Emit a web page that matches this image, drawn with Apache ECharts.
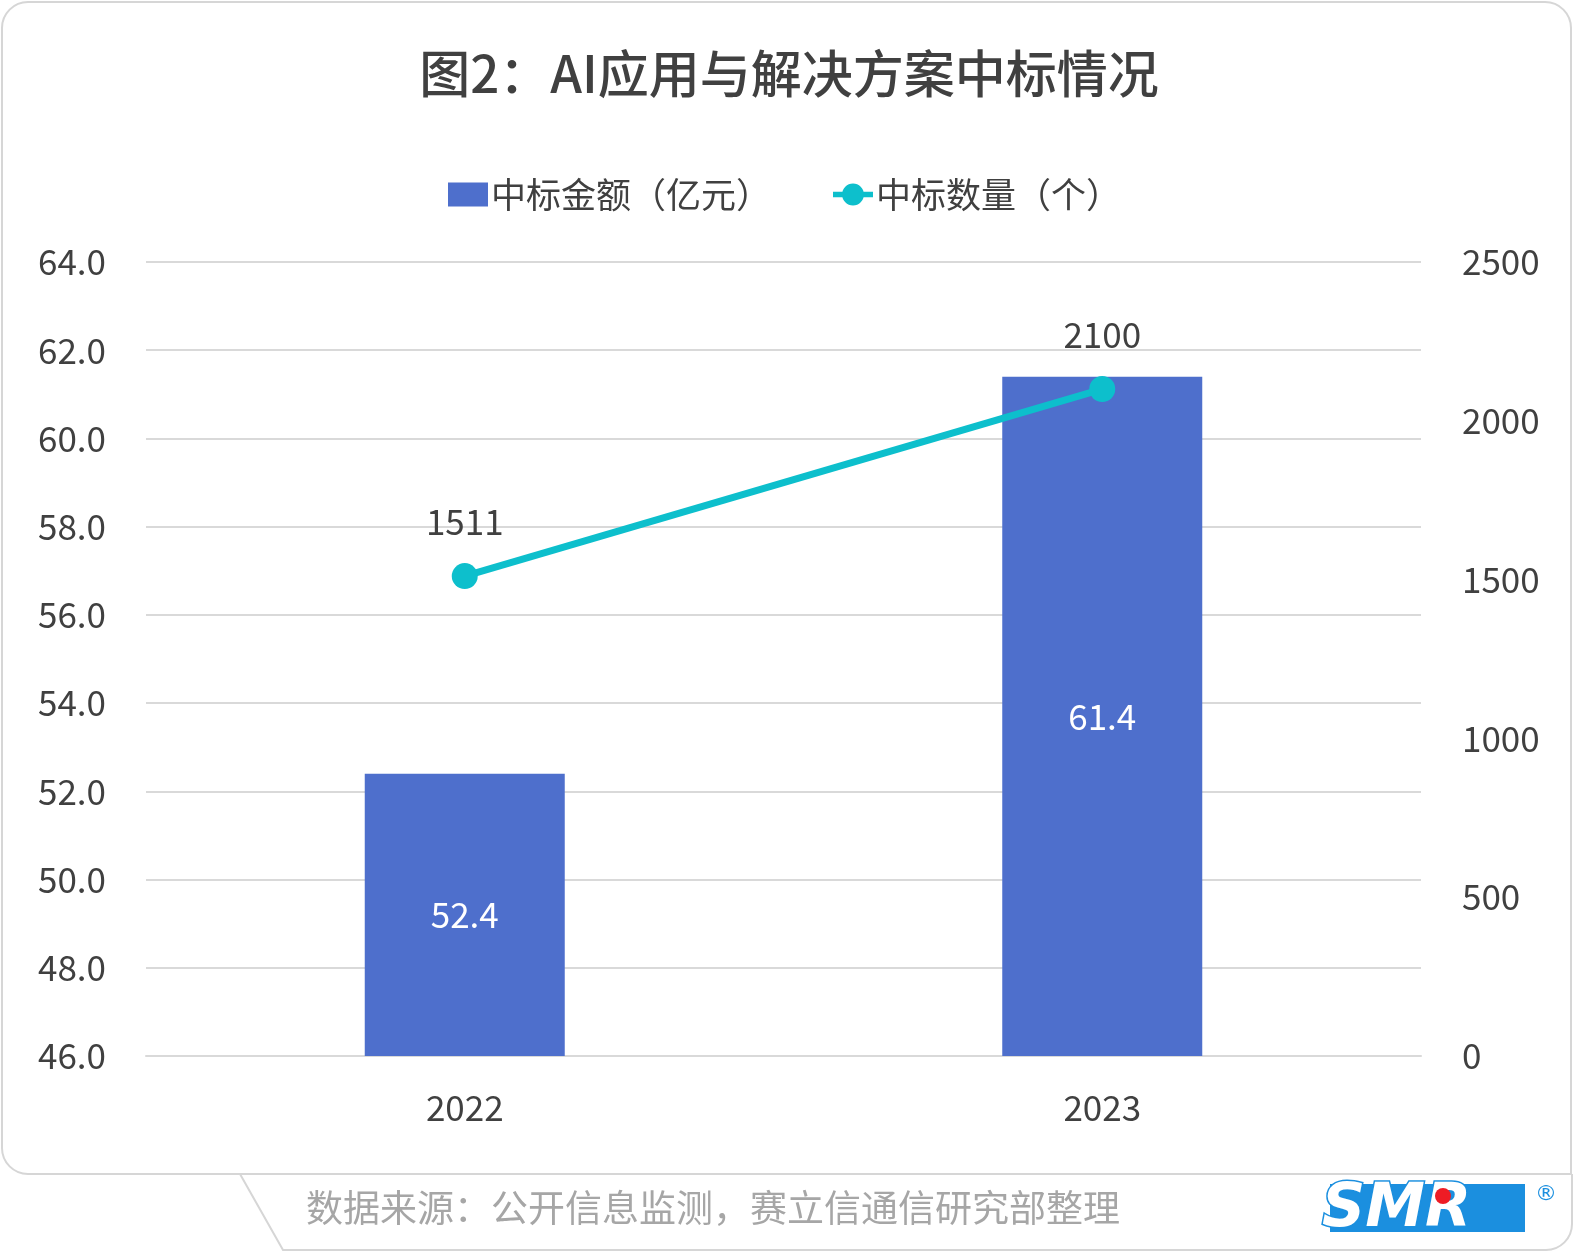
<!DOCTYPE html>
<html>
<head>
<meta charset="utf-8">
<script src="https://cdn.jsdelivr.net/npm/echarts@6/dist/echarts.min.js"></script>
<style>
html,body{margin:0;padding:0;background:#fff;}
#c{width:1578px;height:1254px;}
</style>
</head>
<body>
<div id="c"></div>
<script>
const categories = ['2022', '2023'];
const amountValues = [52.4, 61.4];
const countValues = [1511, 2100];
const leftTicks = { min: 46, max: 64, interval: 2 };
const rightTicks = { min: 0, max: 2500, interval: 500 };
const titleText = '图2：AI应用与解决方案中标情况';
const seriesNames = ['中标金额（亿元）', '中标数量（个）'];
const sourceText = '数据来源：公开信息监测，赛立信通信研究部整理';

const FONT = '"Noto Sans CJK SC", "Noto Sans", sans-serif';
const LINE_COLOR = '#0DBFCC';
const chart = echarts.init(document.getElementById('c'), null, { renderer: 'canvas' });

const option = {
  backgroundColor: '#ffffff',
  animation: false,
  textStyle: { fontFamily: FONT },
  title: {
    text: titleText,
    left: 'center',
    top: 43,
    textStyle: { fontFamily: FONT, fontSize: 51, fontWeight: 500, color: '#404040' }
  },
  legend: {
    left: 443,
    top: 172,
    itemWidth: 40,
    itemHeight: 24,
    itemGap: 62,
    textStyle: { fontFamily: FONT, fontSize: 35, color: '#404040', padding: [0, 0, 0, -2] },
    data: [
      { name: seriesNames[0], icon: 'rect' },
      { name: seriesNames[1], icon: 'path://M0,9L44,9L44,15L0,15Z M34,12A12,12 0 1,1 10,12A12,12 0 1,1 34,12Z' }
    ]
  },
  grid: { left: 146, right: 157, top: 262, bottom: 198, containLabel: false },
  xAxis: {
    type: 'category',
    data: categories,
    axisLine: { show: true, lineStyle: { color: '#d9d9d9', width: 2 } },
    axisTick: { show: false },
    axisLabel: { fontFamily: FONT, fontSize: 35, color: '#404040', margin: 34 }
  },
  yAxis: [
    {
      type: 'value',
      min: leftTicks.min, max: leftTicks.max, interval: leftTicks.interval,
      axisLine: { show: false },
      axisTick: { show: false },
      splitLine: { lineStyle: { color: '#d9d9d9', width: 2 } },
      axisLabel: {
        fontFamily: FONT, fontSize: 35, color: '#404040', margin: 40,
        formatter: v => v.toFixed(1)
      }
    },
    {
      type: 'value',
      min: rightTicks.min, max: rightTicks.max, interval: rightTicks.interval,
      axisLine: { show: false },
      axisTick: { show: false },
      splitLine: { show: false },
      axisLabel: {
        fontFamily: FONT, fontSize: 35, color: '#404040', margin: 41,
        formatter: v => String(v)
      }
    }
  ],
  series: [
    {
      name: seriesNames[0],
      type: 'bar',
      yAxisIndex: 0,
      barWidth: 200,
      data: amountValues,
      itemStyle: { color: '#4E6FCC' },
      label: {
        show: true, position: 'inside',
        fontFamily: FONT, fontSize: 35, color: '#ffffff',
        formatter: p => p.value.toFixed(1)
      },
      z: 2
    },
    {
      name: seriesNames[1],
      type: 'line',
      yAxisIndex: 1,
      data: countValues,
      symbol: 'circle',
      symbolSize: 26,
      lineStyle: { color: LINE_COLOR, width: 7 },
      itemStyle: { color: LINE_COLOR },
      label: {
        show: true, position: 'top', distance: 24,
        fontFamily: FONT, fontSize: 35, color: '#404040'
      },
      z: 3
    }
  ],
  graphic: [
    {
      type: 'rect', z: -10, silent: true,
      shape: { x: 2, y: 2, width: 1569, height: 1172, r: [26, 26, 0, 26] },
      style: { fill: 'transparent', stroke: '#d6d6d6', lineWidth: 2 }
    },
    {
      type: 'polyline', z: -10, silent: true,
      shape: { points: [[240, 1174], [283, 1250], [1546, 1250]] },
      style: { fill: 'none', stroke: '#d6d6d6', lineWidth: 2 }
    },
    {
      type: 'arc', z: -10, silent: true,
      shape: { cx: 1546, cy: 1224, r: 26, startAngle: 0, endAngle: Math.PI / 2 },
      style: { fill: 'none', stroke: '#d6d6d6', lineWidth: 2 }
    },
    {
      type: 'line', z: -10, silent: true,
      shape: { x1: 1572, y1: 1174, x2: 1572, y2: 1224 },
      style: { stroke: '#d6d6d6', lineWidth: 2 }
    },
    {
      type: 'text', silent: true,
      style: {
        text: sourceText, x: 306, y: 1208, verticalAlign: 'middle',
        font: '37px "Noto Sans CJK SC", sans-serif', fill: '#a6a6a6'
      }
    },
    {
      type: 'rect', silent: true,
      shape: { x: 1330, y: 1184, width: 195, height: 48 },
      style: { fill: '#1B8FDF' }
    },
    {
      type: 'text', silent: true,
      style: {
        text: 'SMR', x: 1322, y: 1210, verticalAlign: 'middle',
        font: 'italic bold 60px "DejaVu Sans", sans-serif',
        fill: '#ffffff', stroke: '#1B8FDF', lineWidth: 3
      }
    },
    {
      type: 'circle', silent: true,
      shape: { cx: 1443, cy: 1196, r: 8 },
      style: { fill: '#ee1c25' }
    },
    {
      type: 'text', silent: true,
      style: {
        text: '®', x: 1535, y: 1194, verticalAlign: 'middle',
        font: '22px "DejaVu Sans", sans-serif', fill: '#1B8FDF'
      }
    }
  ]
};
chart.setOption(option);
</script>
</body>
</html>
